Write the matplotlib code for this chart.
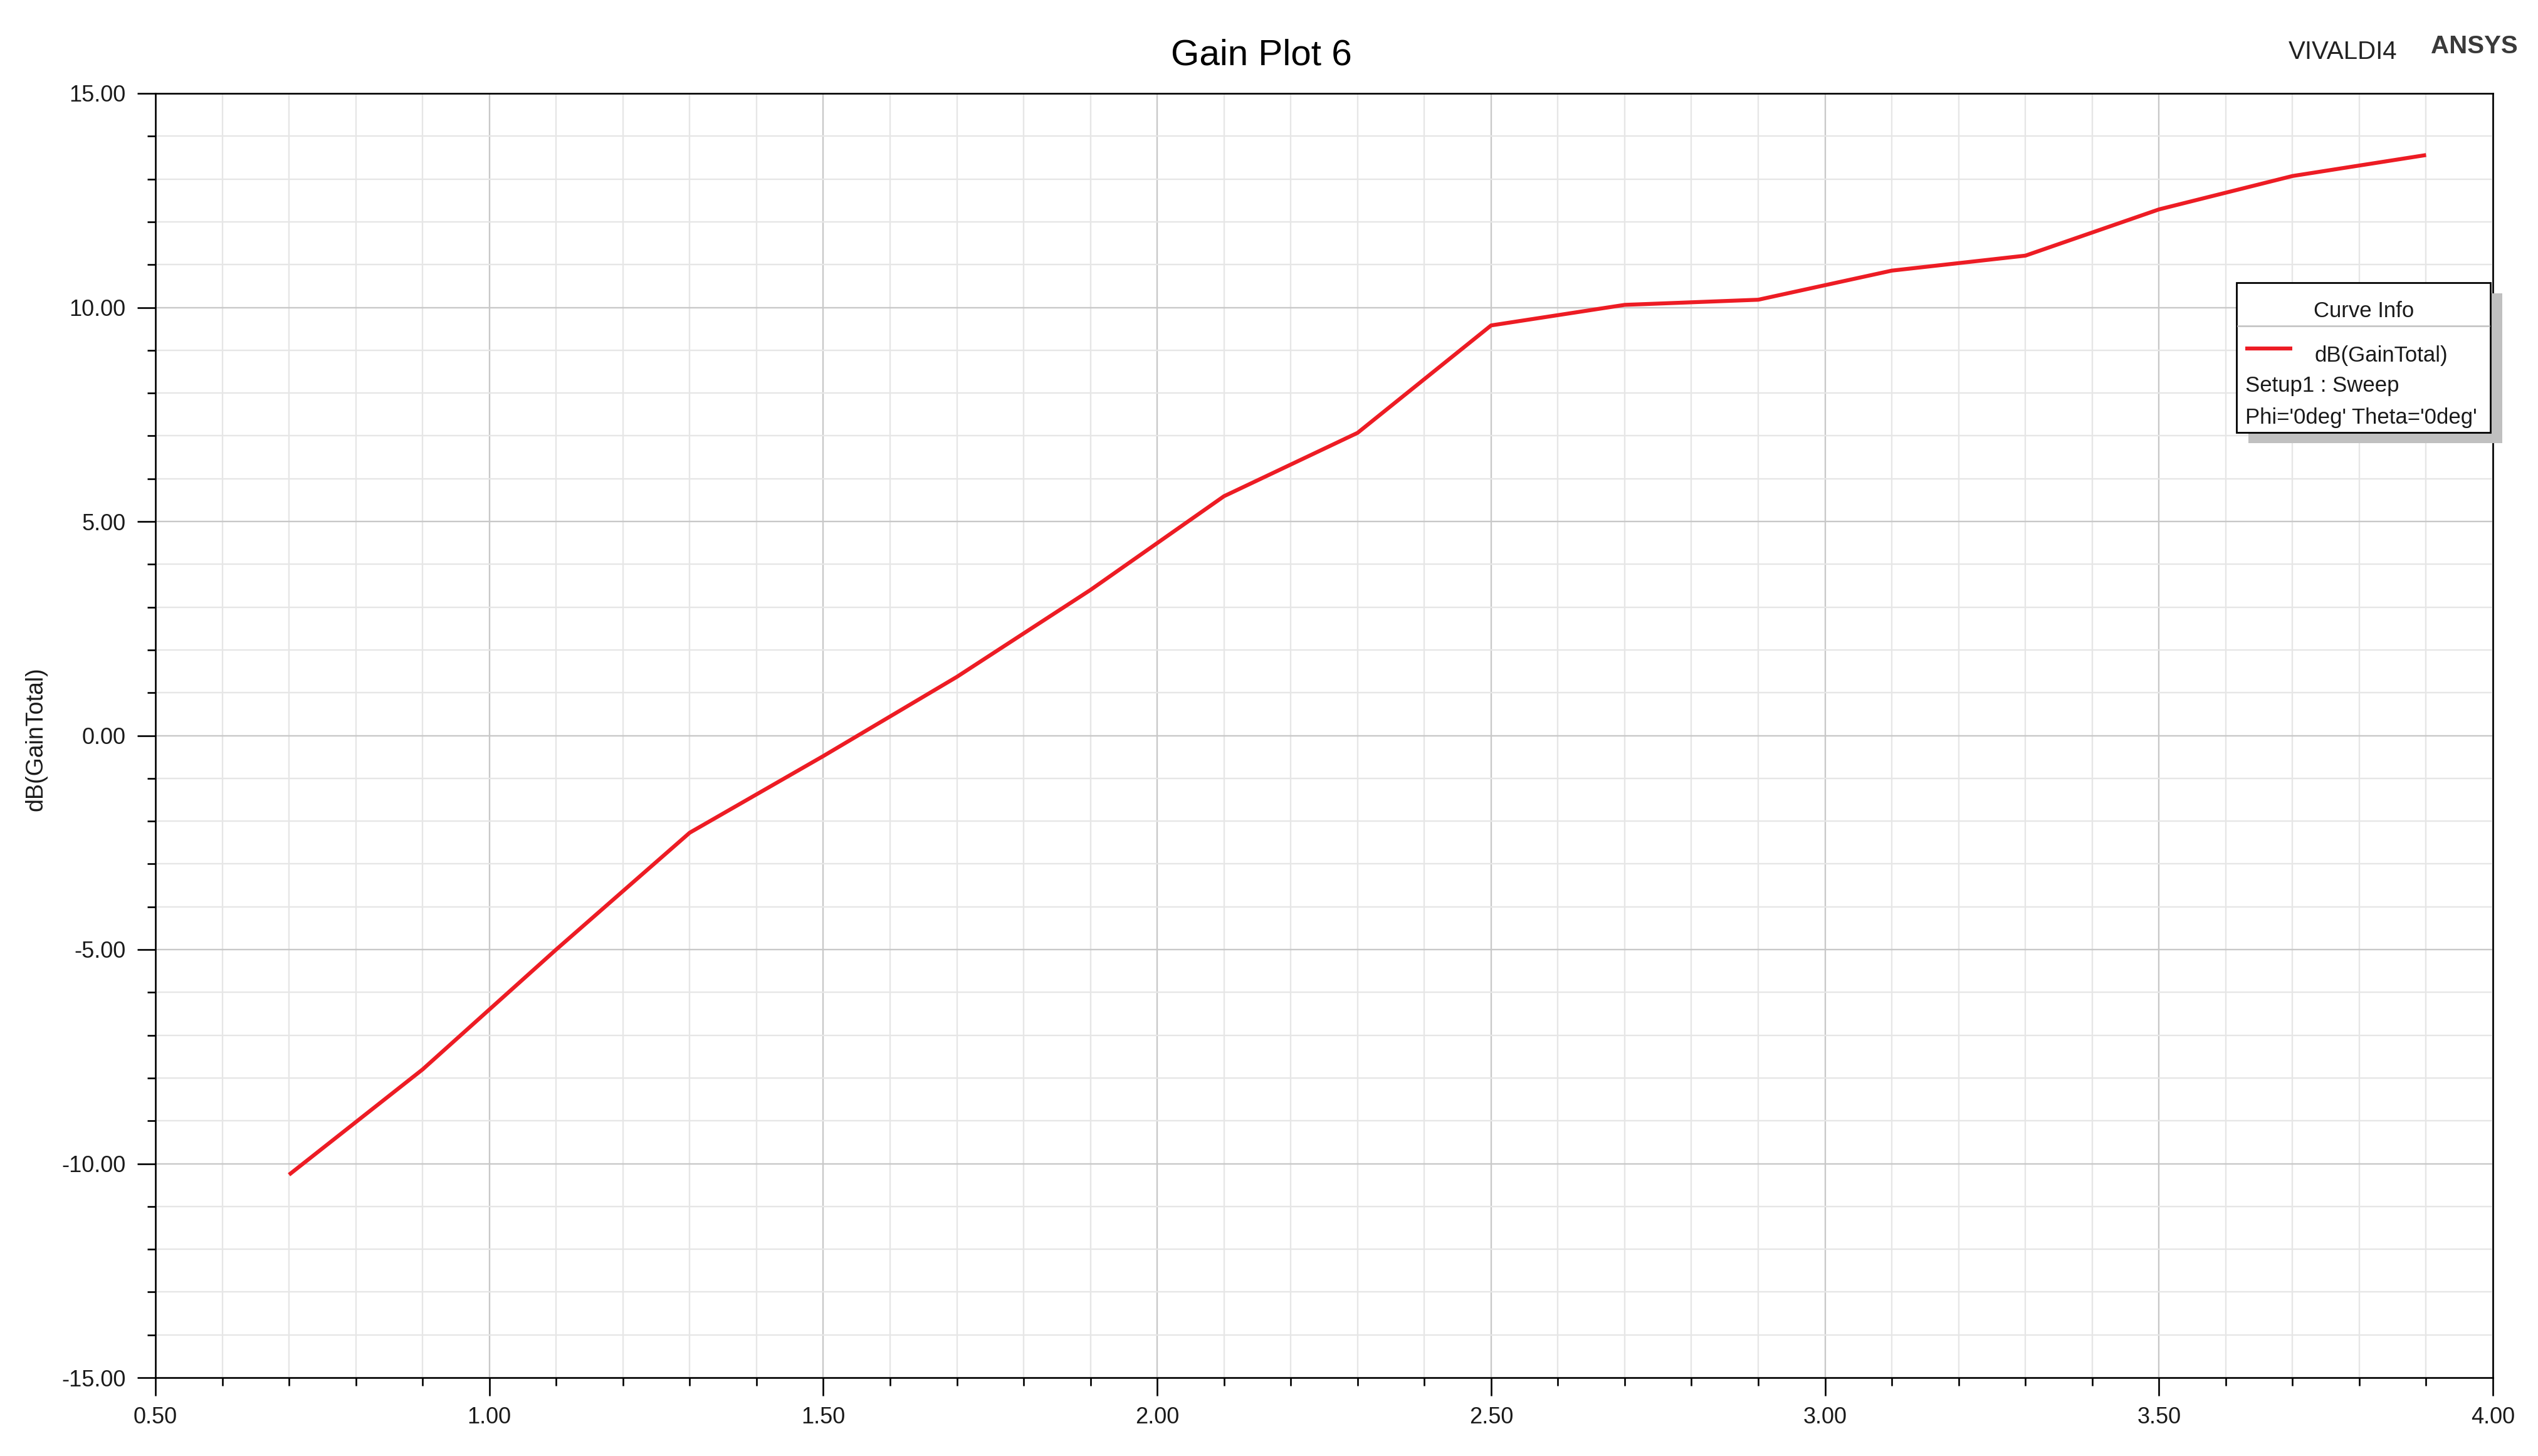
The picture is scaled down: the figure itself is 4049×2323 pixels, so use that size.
import matplotlib
matplotlib.use("Agg")
import matplotlib.pyplot as plt
from matplotlib.ticker import MultipleLocator, FormatStrFormatter
from matplotlib.patches import Rectangle
from matplotlib.lines import Line2D

plt.rcParams['font.family'] = ['Liberation Sans', 'DejaVu Sans']
plt.rcParams['axes.unicode_minus'] = False

# ---- data ----
freq_ghz = [0.7, 0.9, 1.1, 1.3, 1.5, 1.7, 1.9, 2.1, 2.3, 2.5,
            2.7, 2.9, 3.1, 3.3, 3.5, 3.7, 3.9]
gain_db = [-10.26, -7.80, -5.00, -2.27, -0.48, 1.37, 3.40, 5.59, 7.07, 9.58,
           10.06, 10.18, 10.86, 11.21, 12.29, 13.07, 13.56]
series_name = "dB(GainTotal)"
legend_lines = ["Setup1 : Sweep", "Phi='0deg' Theta='0deg'"]
title = "Gain Plot 6"
project = "VIVALDI4"
brand = "ANSYS"

W, H = 4049, 2323
fig = plt.figure(figsize=(W / 100, H / 100), dpi=100)
fig.patch.set_facecolor('white')

L, R, T, B = 248, 3977, 149, 2198
ax = fig.add_axes([L / W, 1 - B / H, (R - L) / W, (B - T) / H])

red = '#ed1c24'
ax.plot(freq_ghz, gain_db, color=red, lw=4.5, solid_capstyle='butt', zorder=3)

ax.set_xlim(0.5, 4.0)
ax.set_ylim(-15, 15)
ax.xaxis.set_major_locator(MultipleLocator(0.5))
ax.xaxis.set_minor_locator(MultipleLocator(0.1))
ax.yaxis.set_major_locator(MultipleLocator(5))
ax.yaxis.set_minor_locator(MultipleLocator(1))
ax.xaxis.set_major_formatter(FormatStrFormatter('%.2f'))
ax.yaxis.set_major_formatter(FormatStrFormatter('%.2f'))

ax.grid(which='minor', color='#e6e6e6', lw=1.7, zorder=0)
ax.grid(which='major', color='#c8c8c8', lw=1.7, zorder=0)
ax.set_axisbelow(True)

for s in ax.spines.values():
    s.set_color('black')
    s.set_linewidth(1.9)

ax.tick_params(which='major', direction='out', length=21, width=1.9,
               labelsize=26, labelcolor='#1a1a1a', pad=12)
ax.tick_params(which='minor', direction='out', length=9.5, width=1.9)
ax.tick_params(axis='y', which='major', pad=13)

ax.set_ylabel(series_name, fontsize=27, color='#1a1a1a')
ax.yaxis.label.set_verticalalignment('center')
ax.yaxis.set_label_coords((57 - L) / (R - L), (B - 1179) / (B - T))


def fx(x):
    return x / W


def fy(y):
    return 1 - y / H


# title and header texts
fig.text(fx(2012), fy(103), title, fontsize=42, ha='center', va='baseline',
         color='black')
fig.text(fx(3651), fy(94), project, fontsize=29, ha='left', va='baseline',
         color='#222222')
fig.text(fx(3878), fy(85), brand, fontsize=29, fontweight='bold', ha='left',
         va='baseline', color='#3a3a3a')

# legend box (Curve Info)
bx0, by0, bx1, by1 = 3568, 451, 3973, 690
fig.add_artist(Rectangle((fx(bx0 + 19), fy(by1 + 17)), (bx1 - bx0) / W,
                         (by1 - by0) / H, transform=fig.transFigure,
                         facecolor='#c0c0c0', edgecolor='none', zorder=5))
fig.add_artist(Rectangle((fx(bx0), fy(by1)), (bx1 - bx0) / W,
                         (by1 - by0) / H, transform=fig.transFigure,
                         facecolor='white', edgecolor='black', lw=2.0,
                         zorder=6))
fig.add_artist(Line2D([fx(bx0 + 2), fx(bx1 - 2)], [fy(520), fy(520)],
                      transform=fig.transFigure, color='#c0c0c0', lw=1.8,
                      zorder=7))
fig.add_artist(Line2D([fx(3582), fx(3657)], [fy(556), fy(556)],
                      transform=fig.transFigure, color=red, lw=4.5,
                      solid_capstyle='butt', zorder=7))
fig.text(fx(3771), fy(506), "Curve Info", fontsize=25, ha='center',
         va='baseline', color='#1a1a1a', zorder=8)
fig.text(fx(3693), fy(577), series_name, fontsize=25, ha='left',
         va='baseline', color='#1a1a1a', zorder=8)
fig.text(fx(3582), fy(625), legend_lines[0], fontsize=25, ha='left',
         va='baseline', color='#1a1a1a', zorder=8)
fig.text(fx(3582), fy(676), legend_lines[1], fontsize=25, ha='left',
         va='baseline', color='#1a1a1a', zorder=8)

fig.savefig('out.png', dpi=100, facecolor='white')
